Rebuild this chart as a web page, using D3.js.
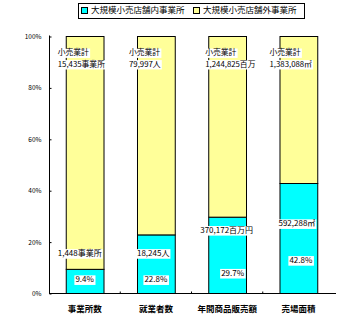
<!DOCTYPE html>
<html>
<head>
<meta charset="utf-8">
<script src="https://cdn.jsdelivr.net/npm/d3@7"></script>
<style>
  html, body { margin: 0; padding: 0; background: #fff; }
  svg { display: block; }
  text { font-family: "Noto Sans CJK JP", "Noto Sans", sans-serif; fill: #000; }
</style>
</head>
<body>
<svg id="chart" width="347" height="323"></svg>
<script>
// Share of large-scale retail stores in the retail total
const categories = ["事業所数", "就業者数", "年間商品販売額", "売場面積"];
const insideShare = [9.4, 22.8, 29.7, 42.8];           // 大規模小売店舗内 (%)
const insideLabels = ["1,448事業所", "18,245人", "370,172百万円", "592,288㎡"];
const totalLabels = ["15,435事業所", "79,997人", "1,244,825百万", "1,383,088㎡"];
const seriesNames = ["大規模小売店舗内事業所", "大規模小売店舗外事業所"];
const yTicks = [0, 20, 40, 60, 80, 100];
const yTickLabels = ["0%", "20%", "40%", "60%", "80%", "100%"];

const colors = ["#00ffff", "#ffff99"];

const svg = d3.select("#chart");
const plot = { left: 49, right: 334, top: 36, bottom: 293 };

const x = d3.scaleBand()
  .domain(categories)
  .range([plot.left, plot.right])
  .paddingInner(0.47)
  .paddingOuter(0.235);

const y = d3.scaleLinear().domain([0, 100]).range([plot.bottom, plot.top]);

// stacked bars: inside share, then remainder up to 100%
const rows = categories.map((c, i) => ({ cat: c, inside: insideShare[i], outside: 100 - insideShare[i] }));
const stack = d3.stack().keys(["inside", "outside"])(rows);

svg.append("g").selectAll("g")
  .data(stack)
  .join("g")
  .attr("fill", (d, i) => colors[i])
  .selectAll("rect")
  .data(d => d)
  .join("rect")
  .attr("x", d => x(d.data.cat) + 0.5)
  .attr("y", d => y(d[1]) + 0.5)
  .attr("width", x.bandwidth())
  .attr("height", d => y(d[0]) - y(d[1]))
  .attr("stroke", "#000")
  .attr("stroke-width", 1);

// y axis
const yAxis = d3.axisRight(y)
  .tickValues(yTicks)
  .tickFormat((d, i) => yTickLabels[i])
  .tickSize(2);
const yg = svg.append("g").attr("transform", `translate(${plot.left + 0.5},0.5)`).call(yAxis);
yg.select(".domain").attr("stroke", "#000").attr("d", `M0,${plot.top - 1}V${plot.bottom}`);
yg.selectAll("text")
  .attr("x", -8)
  .attr("text-anchor", "end")
  .attr("font-size", 6.5)
  .attr("font-family", "Liberation Sans, Arial, sans-serif");

// x axis
const xAxis = d3.axisBottom(x).tickSize(0);
const xg = svg.append("g").attr("transform", `translate(0,${plot.bottom + 0.5})`).call(xAxis);
xg.select(".domain").attr("stroke", "#000").attr("d", `M${plot.left},0H${plot.right + 2}`);
xg.selectAll("text")
  .attr("y", 12)
  .attr("font-size", 8.5)
  .attr("font-weight", "bold");
// small separators between categories
const step = x.step();
xg.selectAll(".sep")
  .data(categories.slice(1))
  .join("line")
  .attr("x1", d => x(d) - step * x.paddingInner() / 2)
  .attr("x2", d => x(d) - step * x.paddingInner() / 2)
  .attr("y1", -2).attr("y2", 0)
  .attr("stroke", "#000");

// text labels with a tight white backing
function boxedText(g, str, tx, ty, size, anchor) {
  const t = g.append("text")
    .attr("x", tx).attr("y", ty)
    .attr("font-size", size)
    .attr("text-anchor", anchor || "start")
    .attr("dominant-baseline", "middle")
    .text(str);
  const b = t.node().getBBox();
  g.insert("rect", () => t.node())
    .attr("x", b.x - 1).attr("y", ty - size * 0.6)
    .attr("width", b.width + 2).attr("height", size * 1.2)
    .attr("fill", "#fff");
}

const labels = svg.append("g");
// totals at top of each bar
const topOffset = [-8, -8, -3, -10];
categories.forEach((c, i) => {
  const lx = x(c) + topOffset[i];
  const g = labels.append("g");
  boxedText(g, "小売業計", lx, y(93.3), 7.8);
  boxedText(g, totalLabels[i], lx, y(88.8), 7.8);
});

// inside-share amount and percentage
const amountPos = [15.2, 15.2, 24.2, 26.8];
const amountOffset = [-8, 0, -8, -1];
const pctPos = [5, 5, 7.5, 12.5];
categories.forEach((c, i) => {
  const g = labels.append("g");
  boxedText(g, insideLabels[i], x(c) + amountOffset[i], y(amountPos[i]), 8);
  const pg = labels.append("g");
  boxedText(pg, insideShare[i].toFixed(1) + "%", x(c) + x.bandwidth() / 2 - (i > 1 ? 6 : 0) + (i === 3 ? -3 : 0), y(pctPos[i]), 8, i > 1 ? "start" : "middle");
});

// legend
const legend = svg.append("g");
legend.append("rect")
  .attr("x", 78.5).attr("y", 3.5).attr("width", 226).attr("height", 15)
  .attr("fill", "#fff").attr("stroke", "#000");
const legX = [81, 193];
seriesNames.forEach((n, i) => {
  legend.append("rect")
    .attr("x", legX[i] + 0.5).attr("y", 7.5).attr("width", 6).attr("height", 6)
    .attr("fill", colors[i]).attr("stroke", "#000");
  legend.append("text")
    .attr("x", legX[i] + 10).attr("y", 11)
    .attr("font-size", 8.5)
    .attr("dominant-baseline", "middle")
    .text(n);
});
</script>
</body>
</html>
